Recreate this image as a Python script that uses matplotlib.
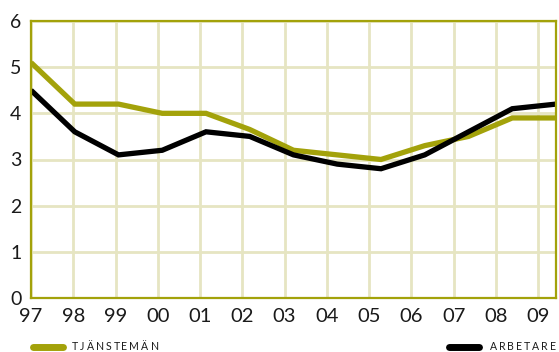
import matplotlib
matplotlib.use("Agg")
import matplotlib.pyplot as plt
from matplotlib.lines import Line2D

years = ["97", "98", "99", "00", "01", "02", "03", "04", "05", "06", "07", "08", "09"]
tjanstemän = [5.1, 4.2, 4.2, 4.0, 4.0, 3.65, 3.2, 3.1, 3.0, 3.3, 3.5, 3.9, 3.9]
arbetare = [4.5, 3.6, 3.1, 3.2, 3.6, 3.5, 3.1, 2.9, 2.8, 3.1, 3.6, 4.1, 4.2]
y_ticks = [0, 1, 2, 3, 4, 5, 6]

OLIVE = "#a3a20a"
GRID = "#e6e5c2"
FONT = "Lato"

fig = plt.figure(figsize=(5.59, 3.52), dpi=100)
ax = fig.add_axes([31 / 559, 54 / 352, 525 / 559, 277 / 352])

x = list(range(len(years)))
ax.plot(x, tjanstemän, color=OLIVE, lw=3.8, solid_joinstyle="miter", solid_capstyle="butt", zorder=3)
ax.plot(x, arbetare, color="black", lw=3.8, solid_joinstyle="miter", solid_capstyle="butt", zorder=4)

ax.set_xlim(0, len(years) - 1)
ax.set_ylim(0, 6)

# year grid runs slightly tighter than the data spacing
step = 0.966
xt = [i * step for i in range(len(years))]
ax.set_xticks(xt)
ax.set_xticklabels(years)
ax.set_yticks(y_ticks)
ax.set_yticklabels([str(v) for v in y_ticks])

ax.grid(True, color=GRID, lw=2.0, zorder=1)
ax.set_axisbelow(True)
for s in ax.spines.values():
    s.set_color(OLIVE)
    s.set_linewidth(1.6)
    s.set_zorder(5)

ax.tick_params(length=0, labelcolor="#1a1a1a")
ax.tick_params(axis="x", pad=7, labelsize=14.5)
ax.tick_params(axis="y", pad=7, labelsize=14)
for lab in ax.get_xticklabels() + ax.get_yticklabels():
    lab.set_fontfamily(FONT)


def spaced_text(x0, y0, s, size=7.6, spacing=2.0, ha="left"):
    """Draw letter-spaced text in figure pixel coordinates."""
    fig.canvas.draw()
    r = fig.canvas.get_renderer()
    widths = []
    for ch in s:
        t = fig.text(0, 0, ch, fontsize=size, fontfamily=FONT)
        widths.append(t.get_window_extent(r).width)
        t.remove()
    total = sum(widths) + spacing * (len(s) - 1)
    cx = x0 - total if ha == "right" else x0
    for ch, w in zip(s, widths):
        fig.text(cx / 559, y0 / 352, ch, fontsize=size, fontfamily=FONT,
                 color="#1a1a1a", va="center")
        cx += w + spacing


ly = 352 - 347
fig.add_artist(Line2D([33 / 559, 63 / 559], [ly / 352, ly / 352], color=OLIVE,
                      lw=5, solid_capstyle="round"))
spaced_text(72, ly, "TJÄNSTEMÄN")
fig.add_artist(Line2D([449 / 559, 479 / 559], [ly / 352, ly / 352], color="black",
                      lw=5, solid_capstyle="round"))
spaced_text(556, ly, "ARBETARE", ha="right")

fig.savefig("out.png", dpi=100)
